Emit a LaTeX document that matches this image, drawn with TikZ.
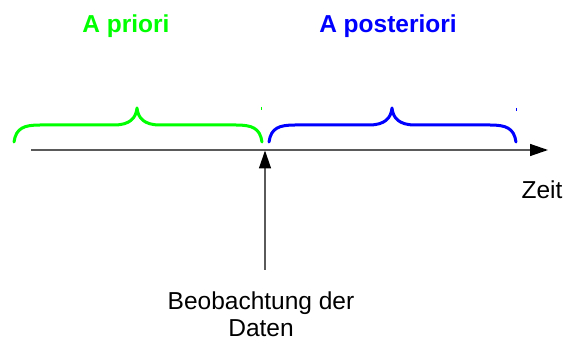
\documentclass[tikz,border=0pt]{standalone}
\usepackage{fontspec}
\setmainfont{Liberation Sans}
\usetikzlibrary{arrows.meta}
\definecolor{bracegreen}{RGB}{0,255,0}
\definecolor{braceblue}{RGB}{0,0,255}
\definecolor{axisgray}{RGB}{90,90,90}
\begin{document}
\begin{tikzpicture}[x=1pt,y=-1pt,
  bracestyle/.style={line width=3pt,line cap=round,line join=round},
  axisline/.style={draw=axisgray,line width=1.4pt},
  tipstyle/.style={-{Triangle[length=18pt,width=12pt,fill=black,color=black]}},
  title/.style={font=\fontsize{24.5}{28}\selectfont\bfseries,inner sep=0pt,anchor=base},
  plain/.style={font=\fontsize{24.5}{27}\selectfont,inner sep=0pt,align=center}]
\useasboundingbox (0,0) rectangle (566,342);
% titles
\node[title,text=bracegreen] (apriori) at (126,33) {A priori};
\node[title,text=braceblue] (apost) at (388,33) {A posteriori};
% braces
\draw[bracestyle,bracegreen] (14,142) .. controls (16,128) and (24,125) .. (40,125)
  -- (114,125) .. controls (130,125) and (136,118) .. (137,108)
  .. controls (138,118) and (144,125) .. (160,125)
  -- (236,125) .. controls (252,125) and (260,128) .. (262,142);
\draw[bracestyle,braceblue] (269,142) .. controls (271,128) and (279,125) .. (295,125)
  -- (369,125) .. controls (385,125) and (391,118) .. (392,108)
  .. controls (393,118) and (399,125) .. (415,125)
  -- (490,125) .. controls (506,125) and (514,128) .. (516,142);
% tiny marks
\draw[bracegreen,line width=0.8pt] (261,107) -- (261,110);
\draw[braceblue,line width=0.8pt] (516,108) -- (516,111);
% time axis
\coordinate (tstart) at (31,150);
\coordinate (tend) at (548,150);
\coordinate (obs) at (265,150.5);
\draw[axisline,tipstyle] (tstart) -- (tend);
\node[plain,anchor=base] (zeit) at (542,199) {Zeit};
% observation
\node[plain,anchor=base] (beob) at (261,337) {Beobachtung der\\Daten};
\coordinate (obsfoot) at (265,270);
\draw[axisline,tipstyle] (obsfoot) -- (obs);
\end{tikzpicture}
\end{document}
